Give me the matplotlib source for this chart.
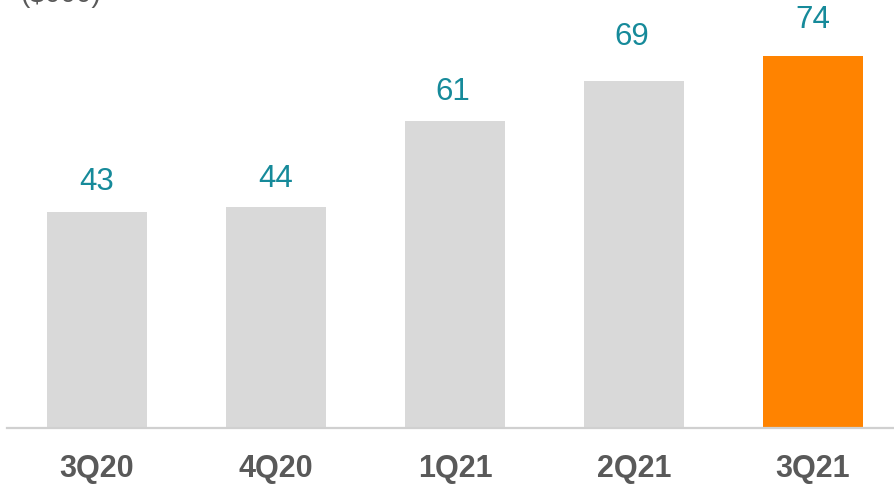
import matplotlib.pyplot as plt
from matplotlib.lines import Line2D

quarters = ["3Q20", "4Q20", "1Q21", "2Q21", "3Q21"]
values = [43, 44, 61, 69, 74]
bar_colors = ["#d9d9d9", "#d9d9d9", "#d9d9d9", "#d9d9d9", "#ff8300"]
unit_label = "($000)"


def main():
    plt.rcParams["font.family"] = ["Liberation Sans", "DejaVu Sans"]
    fig = plt.figure(figsize=(8.94, 4.84), dpi=100)
    # axes spans from x=5px to right edge, baseline at y=428px
    ax = fig.add_axes([5 / 894, 56 / 484, 889 / 894, 428 / 484])
    x = list(range(len(quarters)))
    ax.bar(x, values, width=100 / 179, color=bar_colors, zorder=2)
    ax.set_xlim(-92 / 179, 797 / 179)
    ax.set_ylim(0, 428 / 5.03)
    ax.axis("off")

    # base line
    fig.add_artist(Line2D([7 / 894, 1], [56 / 484, 56 / 484], color="#d0d0d0",
                          linewidth=1.6, transform=fig.transFigure))

    # label offsets above bars (points), placed by hand in the original
    label_gap = [15.8, 14.4, 15.1, 25.9, 20.2]
    label_dx = [0, 0, -1.4, -1.4, 0]
    for xi, v, q, g, dx in zip(x, values, quarters, label_gap, label_dx):
        ax.annotate(str(v), xy=(xi, v), xytext=(dx, g), textcoords="offset points",
                    ha="center", va="baseline", fontsize=22.5, color="#168a9a")
        ax.annotate(q, xy=(xi, 0), xytext=(0, -35.5), textcoords="offset points",
                    ha="center", va="baseline", fontsize=22, fontweight="bold",
                    color="#595959", annotation_clip=False)

    fig.text(20 / 894, 1 - 2 / 484, unit_label, ha="left", va="baseline",
             fontsize=20, color="#595959")

    fig.savefig("out.png", dpi=100)


if __name__ == "__main__":
    main()
